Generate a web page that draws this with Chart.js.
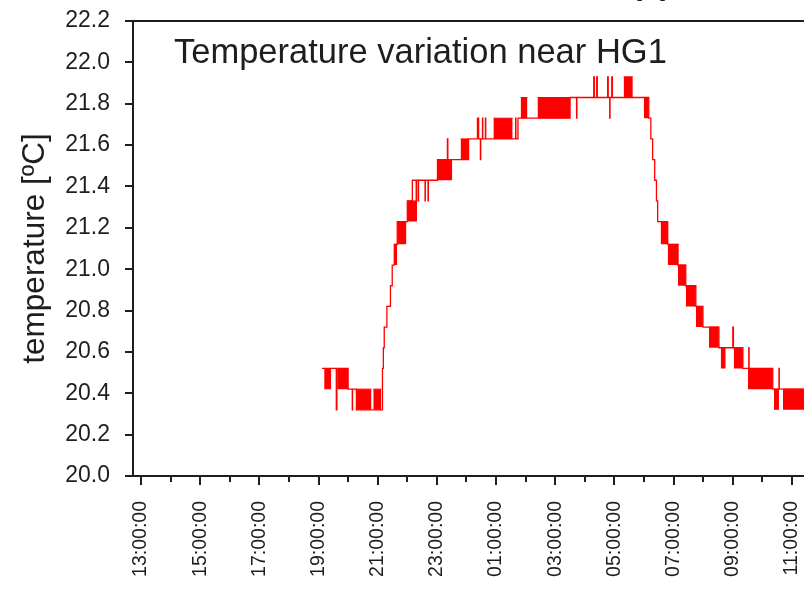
<!DOCTYPE html>
<html>
<head>
<meta charset="utf-8">
<script src="https://cdn.jsdelivr.net/npm/chart.js@4.4.1/dist/chart.umd.min.js"></script>
<style>
  html, body { margin: 0; padding: 0; background: #fff; overflow: hidden; }
  #wrap { width: 804px; height: 590px; overflow: hidden; position: relative; }
  canvas { display: block; }
</style>
</head>
<body>
<div id="wrap"><canvas id="c" width="860" height="590"></canvas></div>
<script>
// Time is in hours from midnight of the first day; values above 24 fall on the next morning.
// Level changes and short single-sample blips of the logged temperature.
const stepTimes = [
  19.12, 19.60, 19.62, 20.00, 20.14, 20.15, 20.28,
  21.16, 21.19, 21.22, 21.31, 21.43, 21.49, 21.56, 21.66, 22.00, 22.17,
  22.30, 22.31, 22.37, 22.38, 22.60, 22.61, 22.70, 22.71,
  23.02, 23.355, 23.37, 24.07, 24.37, 24.38, 24.40, 24.41, 24.47, 24.48,
  24.54, 24.55, 24.64, 24.65, 25.66, 25.67, 25.74,
  27.50, 27.72, 27.73, 28.30, 28.32, 28.40, 28.42, 28.77, 28.79, 28.84, 28.85, 28.91, 28.93,
  30.16, 30.23, 30.29, 30.36, 30.42, 30.46, 30.80, 31.14, 31.41, 31.75, 31.99,
  32.53, 33.00, 33.02, 33.34, 33.54, 33.55, 34.35, 34.56, 34.57, 35.60
];
const stepTemps = [
  20.52, 20.32, 20.52, 20.42, 20.32, 20.42, 20.32,
  20.52, 20.62, 20.72, 20.82, 20.92, 21.02, 21.12, 21.23, 21.33, 21.43,
  21.33, 21.43, 21.33, 21.43, 21.33, 21.43, 21.33, 21.43,
  21.53, 21.63, 21.53, 21.63, 21.73, 21.63, 21.73, 21.63, 21.53, 21.63,
  21.73, 21.63, 21.73, 21.63, 21.73, 21.63, 21.73,
  21.83, 21.73, 21.83, 21.93, 21.83, 21.93, 21.83, 21.93, 21.83, 21.73, 21.83, 21.93, 21.83,
  21.73, 21.63, 21.53, 21.43, 21.33, 21.23, 21.12, 21.02, 20.92, 20.82, 20.72,
  20.62, 20.72, 20.62, 20.52, 20.62, 20.52, 20.42, 20.52, 20.42, 20.42
];
// Stretches where the reading flickered between two adjacent levels.
const flickerStart = [19.19, 19.63, 20.28, 20.85, 21.56, 21.66, 22.00, 23.02, 23.80, 24.91, 25.83, 26.40, 29.31, 29.99,
                      30.56, 30.80, 31.14, 31.41, 31.75, 32.19, 32.59, 33.03, 33.51, 34.39, 34.69];
const flickerEnd   = [19.43, 20.00, 20.79, 21.12, 21.66, 21.97, 22.33, 23.52, 24.07, 25.56, 26.06, 27.50, 29.62, 30.16,
                      30.80, 31.17, 31.41, 31.75, 31.99, 32.53, 32.76, 33.34, 34.35, 34.56, 35.60];
const flickerLow   = [20.42, 20.42, 20.32, 20.32, 21.02, 21.12, 21.23, 21.43, 21.53, 21.63, 21.73, 21.73, 21.83, 21.73,
                      21.12, 21.02, 20.92, 20.82, 20.72, 20.62, 20.52, 20.52, 20.42, 20.32, 20.32];
const flickerHigh  = [20.52, 20.52, 20.42, 20.42, 21.12, 21.23, 21.33, 21.53, 21.63, 21.73, 21.83, 21.83, 21.93, 21.83,
                      21.23, 21.12, 21.02, 20.92, 20.82, 20.72, 20.62, 20.62, 20.52, 20.42, 20.42];

// Axis ticks
const yTickValues = [20.0, 20.2, 20.4, 20.6, 20.8, 21.0, 21.2, 21.4, 21.6, 21.8, 22.0, 22.2];
const hourMarks = [13, 14, 15, 16, 17, 18, 19, 20, 21, 22, 23, 24, 25, 26, 27, 28, 29, 30, 31, 32, 33, 34, 35, 36];
const labelHours = [13, 15, 17, 19, 21, 23, 25, 27, 29, 31, 33, 35];
const timeLabels = ['13:00:00', '15:00:00', '17:00:00', '19:00:00', '21:00:00', '23:00:00',
                    '01:00:00', '03:00:00', '05:00:00', '07:00:00', '09:00:00', '11:00:00'];

const FONT = "'Liberation Sans', Arial, Helvetica, sans-serif";
const INK = '#1e1e1e';
const RED = '#ff0000';

const datasets = [{
  label: 'temperature',
  data: stepTimes.map((t, i) => ({ x: t, y: stepTemps[i] })),
  stepped: true,
  borderColor: RED,
  borderWidth: 1.3,
  pointRadius: 0,
  fill: false
}];
flickerStart.forEach((s, i) => {
  datasets.push({
    label: 'flicker' + i,
    data: [{ x: s, y: flickerHigh[i] }, { x: flickerEnd[i], y: flickerHigh[i] }],
    borderColor: RED,
    borderWidth: 1,
    backgroundColor: RED,
    pointRadius: 0,
    fill: { value: flickerLow[i] }
  });
});

// Axis lines, tick marks and the in-plot heading
const frame = {
  id: 'frame',
  afterDraw(chart) {
    const { ctx, chartArea: a, scales: { x, y } } = chart;
    const seg = (x1, y1, x2, y2) => { ctx.beginPath(); ctx.moveTo(x1, y1); ctx.lineTo(x2, y2); ctx.stroke(); };
    ctx.save();
    ctx.strokeStyle = INK;
    ctx.lineWidth = 2;
    seg(a.left, a.top - 1, a.left, a.bottom + 1);
    seg(a.left - 8, a.top, a.right, a.top);
    seg(a.left - 8, a.bottom, a.right, a.bottom);
    y.ticks.forEach(t => {
      const py = Math.round(y.getPixelForValue(t.value));
      seg(a.left - 8, py, a.left, py);
    });
    x.ticks.forEach(t => {
      const px = Math.round(x.getPixelForValue(t.value));
      const len = labelHours.includes(t.value) ? 9 : 6;
      seg(px, a.bottom, px, a.bottom + len);
    });
    ctx.fillStyle = INK;
    ctx.textBaseline = 'alphabetic';
    ctx.textAlign = 'left';
    ctx.font = '34.5px ' + FONT;
    ctx.fillText('Temperature variation near HG1', 174, 63);
    ctx.textAlign = 'center';
    ctx.font = 'bold 32px ' + FONT;
    ctx.fillText('(a)', 651, -6);
    ctx.restore();
  }
};

new Chart(document.getElementById('c'), {
  type: 'line',
  data: { datasets },
  options: {
    responsive: false,
    animation: false,
    devicePixelRatio: 1,
    layout: { padding: { top: 21, right: 10, left: 0, bottom: 0 } },
    plugins: { legend: { display: false }, tooltip: { enabled: false } },
    scales: {
      x: {
        type: 'linear',
        min: 12.73,
        max: 36.96,
        afterBuildTicks: s => { s.ticks = hourMarks.map(v => ({ value: v })); },
        afterFit: s => { s.height = 114; s.paddingLeft = 0; s.paddingRight = 0; },
        ticks: {
          autoSkip: false,
          maxRotation: 90,
          minRotation: 90,
          padding: 16,
          color: INK,
          font: { family: FONT, size: 19.5 },
          callback: v => { const i = labelHours.indexOf(v); return i < 0 ? '' : timeLabels[i]; }
        },
        grid: { display: true, drawOnChartArea: false, drawTicks: true, tickLength: 9, color: 'rgba(0,0,0,0)' },
        border: { display: false }
      },
      y: {
        min: 20,
        max: 22.2,
        afterBuildTicks: s => { s.ticks = yTickValues.map(v => ({ value: v })); },
        afterFit: s => { s.width = 133; s.paddingTop = 0; s.paddingBottom = 0; },
        ticks: {
          padding: 15,
          color: INK,
          font: { family: FONT, size: 23 },
          callback: v => Number(v).toFixed(1)
        },
        grid: { display: true, drawOnChartArea: false, drawTicks: true, tickLength: 8, color: 'rgba(0,0,0,0)' },
        border: { display: false },
        title: {
          display: true,
          text: 'temperature [ºC]',
          color: INK,
          font: { family: FONT, size: 31.5 },
          padding: { top: 16, bottom: 0 }
        }
      }
    }
  },
  plugins: [frame]
});
</script>
</body>
</html>
